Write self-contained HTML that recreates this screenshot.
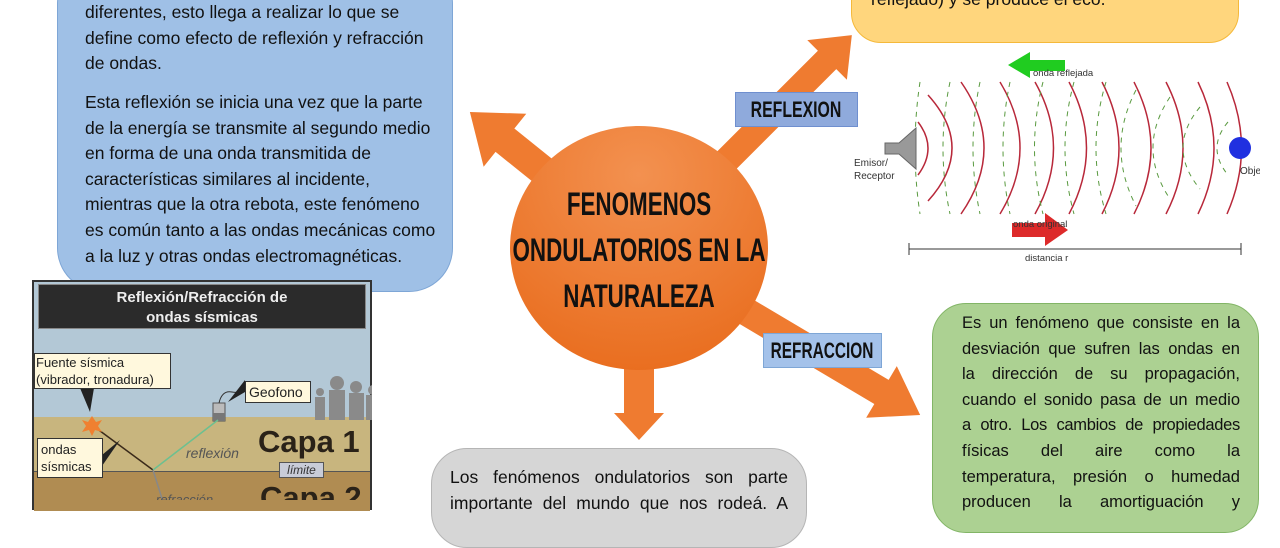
<!DOCTYPE html>
<html><head><meta charset="utf-8">
<style>
*{margin:0;padding:0;box-sizing:border-box}
body{width:1280px;height:500px;overflow:hidden;background:#fff;position:relative;font-family:"Liberation Sans",sans-serif}
.abs{position:absolute}
.txt{font-size:17.5px;color:#111;line-height:25.6px;white-space:nowrap}
.j{text-align:justify;text-align-last:justify;white-space:nowrap;display:block}
.cond{font-family:"Liberation Sans",sans-serif;font-weight:bold;color:#111;white-space:nowrap}
</style></head><body>

<div class="abs" style="left:57px;top:-40px;width:396px;height:332px;background:#9fc0e6;border:1px solid #7ea6d6;border-radius:44px"></div>
<div class="abs txt" style="left:85px;top:0px">diferentes, esto llega a realizar lo que se<br>define como efecto de reflexión y refracción<br>de ondas.</div>
<div class="abs txt" style="left:85px;top:90px">Esta reflexión se inicia una vez que la parte<br>de la energía se transmite al segundo medio<br>en forma de una onda transmitida de<br>características similares al incidente,<br>mientras que la otra rebota, este fenómeno<br>es común tanto a las ondas mecánicas como<br>a la luz y otras ondas electromagnéticas.</div>

<div class="abs" style="left:851px;top:-40px;width:388px;height:83px;background:#ffd67d;border:1px solid #f5b93a;border-radius:30px"></div>
<div class="abs txt" style="left:871px;top:-13px">reflejado) y se produce el eco.</div>

<div class="abs" style="left:932px;top:303px;width:327px;height:230px;background:#acd192;border:1px solid #82b566;border-radius:34px"></div>
<div class="abs txt" style="left:962px;top:311px;width:278px;font-size:16.5px">
<span class="j" style="height:25.6px">Es un fenómeno que consiste en la</span>
<span class="j" style="height:25.6px">desviación que sufren las ondas en</span>
<span class="j" style="height:25.6px">la dirección de su propagación,</span>
<span class="j" style="height:25.6px">cuando el sonido pasa de un medio</span>
<span class="j" style="height:25.6px;letter-spacing:-0.3px">a otro. Los cambios de propiedades</span>
<span class="j" style="height:25.6px">físicas del aire como la</span>
<span class="j" style="height:25.6px">temperatura, presión o humedad</span>
<span class="j" style="height:25.6px">producen la amortiguación y</span>
</div>

<div class="abs" style="left:431px;top:448px;width:376px;height:100px;background:#d6d6d6;border:1px solid #b5b5b5;border-radius:36px"></div>
<div class="abs txt" style="left:450px;top:465px;width:338px">
<span class="j" style="height:25.6px">Los fenómenos ondulatorios son parte</span>
<span class="j" style="height:25.6px">importante del mundo que nos rodeá. A</span>
</div>

<svg class="abs" style="left:0;top:0" width="1280" height="500">
<defs>
<radialGradient id="cg" cx="0.5" cy="0.2" r="0.9"><stop offset="0" stop-color="#f39150"/><stop offset="1" stop-color="#e86a1a"/></radialGradient>
</defs>
<g fill="#ef7b30">
<g transform="translate(639,248) rotate(218.8)"><polygon points="0,-15 172,-15 172,-34 217,0 172,34 172,15 0,15"/></g>
<g transform="translate(639,248) rotate(-45)"><polygon points="0,-13 266,-13 266,-28 301,0 266,28 266,13 0,13"/></g>
<g transform="translate(639,248) rotate(90)"><polygon points="0,-15 165,-15 165,-25 192,0 165,25 165,15 0,15"/></g>
<g transform="translate(639,248) rotate(30.7)"><polygon points="0,-14 282,-14 282,-30 327,0 282,30 282,14 0,14"/></g>
</g>
<ellipse cx="639" cy="248" rx="129" ry="122" fill="url(#cg)"/>
</svg>

<div class="abs cond" style="left:439px;top:181px;width:400px;text-align:center;font-size:32px;line-height:46px;transform:scaleX(0.7)">FENOMENOS<br>ONDULATORIOS EN LA<br>NATURALEZA</div>

<div class="abs" style="left:735px;top:92px;width:123px;height:35px;background:#8faadc;border:1px solid #6f8fcf"></div>
<div class="abs cond" style="left:716px;top:96px;width:160px;text-align:center;font-size:22px;line-height:28px;transform:scaleX(0.72)">REFLEXION</div>
<div class="abs" style="left:763px;top:333px;width:119px;height:35px;background:#a4c2ea;border:1px solid #7ea6d6"></div>
<div class="abs cond" style="left:742px;top:337px;width:160px;text-align:center;font-size:22px;line-height:28px;transform:scaleX(0.7)">REFRACCION</div>

<svg class="abs" style="left:840px;top:45px" width="420" height="225">
<g fill="none" stroke="#b8283a" stroke-width="1.5">
<path d="M78,77 Q98,103 78,130"/>
<path d="M88,50 Q136,103 88,156"/>
<path d="M121,37 Q167,103 121,169"/>
<path d="M160,37 Q200,103 160,169"/>
<path d="M195,37 Q232,103 195,169"/>
<path d="M229,37 Q264,103 229,169"/>
<path d="M262,37 Q296,103 262,169"/>
<path d="M294,37 Q328,103 294,169"/>
<path d="M326,37 Q360,103 326,169"/>
<path d="M358,37 Q390,103 358,169"/>
<path d="M387,37 Q416,103 387,169"/>
</g>
<g fill="none" stroke="#5a9a40" stroke-width="1" stroke-dasharray="5,5">
<path d="M80,37 Q70,103 80,169"/>
<path d="M110,37 Q96,103 110,169"/>
<path d="M140,37 Q126,103 140,169"/>
<path d="M170,37 Q156,103 170,169"/>
<path d="M203,37 Q186,103 203,169"/>
<path d="M234,37 Q216,103 234,169"/>
<path d="M266,37 Q246,103 266,169"/>
<path d="M296,45 Q266,103 296,161"/>
<path d="M330,52 Q296,103 330,154"/>
<path d="M360,62 Q326,103 360,144"/>
<path d="M388,77 Q366,103 388,130"/>
</g>
<polygon points="45,98 59,98 76,83 76,124 59,109 45,109" fill="#999" stroke="#666"/>
<circle cx="400" cy="103" r="11" fill="#2030e0"/>
<text x="14" y="121" font-size="10" fill="#333" font-family="Liberation Sans">Emisor/</text>
<text x="14" y="134" font-size="10" fill="#333" font-family="Liberation Sans">Receptor</text>
<text x="400" y="129" font-size="10" fill="#333" font-family="Liberation Sans">Objeto</text>
<polygon points="168,20 190,7 190,15 225,15 225,26 190,26 190,33" fill="#20cc20"/>
<text x="193" y="31" font-size="9.5" fill="#333" font-family="Liberation Sans">onda reflejada</text>
<polygon points="172,178 205,178 205,168 228,185 205,201 205,192 172,192" fill="#dd2a2a"/>
<text x="173" y="182" font-size="9.5" fill="#333" font-family="Liberation Sans">onda original</text>
<line x1="69" y1="204" x2="401" y2="204" stroke="#333"/>
<line x1="69" y1="198" x2="69" y2="210" stroke="#333"/>
<line x1="401" y1="198" x2="401" y2="210" stroke="#333"/>
<text x="185" y="216" font-size="9.5" fill="#333" font-family="Liberation Sans">distancia r</text>
</svg>

<div class="abs" style="left:32px;top:280px;width:340px;height:230px;background:#b3c8d6;border:2px solid #333"></div>
<div class="abs" style="left:38px;top:284px;width:328px;height:45px;background:#2b2b2b;border:1px solid #888;color:#eee;font-weight:bold;font-size:15px;line-height:20px;text-align:center;padding-top:3px">Reflexión/Refracción de<br>ondas sísmicas</div>
<div class="abs" style="left:34px;top:417px;width:336px;height:54px;background:#c8b57e"></div>
<div class="abs" style="left:34px;top:471px;width:336px;height:40px;background:#b08c52;border-top:1px solid #555"></div>
<svg class="abs" style="left:32px;top:280px" width="340" height="220">
<g fill="#8a8a8a">
<circle cx="305" cy="103" r="7"/><rect x="297" y="110" width="16" height="30"/>
<circle cx="324" cy="107" r="6"/><rect x="317" y="113" width="15" height="27"/>
<circle cx="341" cy="110" r="5"/><rect x="334" y="115" width="6" height="25"/>
<circle cx="288" cy="112" r="4"/><rect x="283" y="117" width="10" height="23"/>
</g>
<rect x="181" y="123" width="12" height="18" fill="#bbb" stroke="#555"/>
<rect x="181" y="133" width="12" height="8" fill="#777"/>
<path d="M187,123 Q190,110 200,112 T212,105" stroke="#333" fill="none"/>
<line x1="60" y1="145" x2="121" y2="190" stroke="#3a2a1a" stroke-width="1.5"/>
<line x1="121" y1="190" x2="186" y2="140" stroke="#6cc090" stroke-width="1.5"/>
<line x1="121" y1="190" x2="132" y2="225" stroke="#888" stroke-width="1.5"/>
<polygon points="60,136 64,142 70,140 66,146 70,152 63,150 60,156 57,150 50,152 54,146 50,140 56,142" fill="#f08030"/>
<polygon points="48,108 62,108 58,132" fill="#222"/>
<polygon points="213,100 213,112 196,122" fill="#222"/>
<polygon points="70,175 70,186 88,160" fill="#222"/>
<text x="154" y="178" font-size="14" font-style="italic" fill="#555" font-family="Liberation Sans">reflexión</text>
<text x="226" y="172" font-size="31" font-weight="bold" fill="#2a2218" font-family="Liberation Sans">Capa 1</text>
<text x="124" y="224" font-size="13" font-style="italic" fill="#555" font-family="Liberation Sans">refracción</text>
<text x="228" y="228" font-size="31" font-weight="bold" fill="#2a2218" font-family="Liberation Sans">Capa 2</text>
</svg>
<div class="abs" style="left:34px;top:353px;width:137px;height:36px;background:#fff8dd;border:1px solid #333;font-size:13px;line-height:17px;color:#222;padding-left:1px;white-space:nowrap">Fuente sísmica<br>(vibrador, tronadura)</div>
<div class="abs" style="left:245px;top:381px;width:66px;height:22px;background:#fff8dd;border:1px solid #333;font-size:14px;line-height:20px;color:#222;padding-left:3px">Geofono</div>
<div class="abs" style="left:37px;top:438px;width:66px;height:40px;background:#fff8dd;border:1px solid #333;font-size:13px;line-height:17px;color:#222;padding-left:3px;padding-top:2px">ondas<br>sísmicas</div>
<div class="abs" style="left:279px;top:462px;width:45px;height:16px;background:#c8ccd8;border:1px solid #555;font-size:12px;font-style:italic;line-height:14px;color:#333;text-align:center">límite</div>

</body></html>
